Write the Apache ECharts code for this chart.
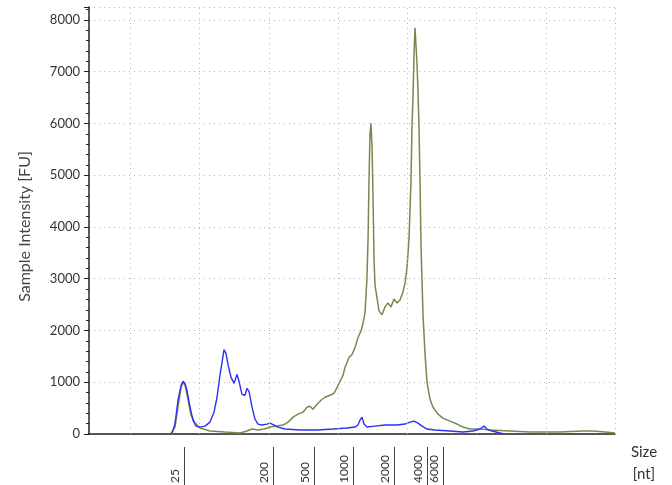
<!DOCTYPE html>
<html><head><meta charset="utf-8">
<script src="https://cdn.jsdelivr.net/npm/echarts@6/dist/echarts.min.js"></script>
<style>html,body{margin:0;padding:0;background:#fff}#c{width:672px;height:485px}</style>
</head><body><div id="c"></div>
<script>
// migration time axis (s) and fluorescence (FU)
const sampleGreen = [
[22.92,0],[23.21,134],[23.43,518],[23.65,902],[23.79,1000],[23.94,940],[24.15,671],[24.37,365],[24.66,211],[25.02,115],
[25.74,58],[26.83,38],[27.91,19],[28.41,58],[28.78,96],[29.21,77],[29.64,96],[30.08,134],[30.58,153],[31.02,173],
[31.38,230],[31.74,326],[32.10,384],[32.46,422],[32.75,518],[32.97,537],[33.18,480],[33.47,576],[33.76,652],[34.05,710],
[34.41,748],[34.70,787],[34.92,902],[35.13,1017],[35.35,1132],[35.49,1285],[35.64,1381],[35.78,1477],[36.00,1535],[36.22,1669],
[36.43,1861],[36.65,1995],[36.79,2130],[36.94,2341],[37.01,2667],[37.08,3012],[37.16,3779],[37.23,4931],[37.30,5794],[37.37,6005],
[37.45,5506],[37.52,4547],[37.59,3396],[37.66,2878],[37.81,2628],[37.95,2379],[38.17,2302],[38.38,2456],[38.60,2532],[38.82,2456],
[39.03,2609],[39.25,2532],[39.47,2590],[39.68,2743],[39.83,2916],[39.97,3204],[40.12,3779],[40.26,4873],[40.33,5890],[40.41,6561],
[40.48,7329],[40.55,7847],[40.62,7521],[40.70,7137],[40.77,6600],[40.84,5947],[40.91,4931],[40.99,3588],[41.13,2302],[41.27,1573],
[41.42,998],[41.64,671],[41.85,518],[42.21,384],[42.57,307],[43.08,249],[43.59,192],[44.02,134],[44.52,96],[45.25,96],
[45.97,77],[47.41,58],[48.86,38],[51.03,38],[52.69,58],[53.41,58],[54.28,38],[55.00,19]
];
const sampleBlue = [
[22.92,0],[23.07,77],[23.21,192],[23.43,652],[23.65,940],[23.79,1017],[23.94,978],[24.08,844],[24.30,518],[24.51,269],
[24.73,153],[25.02,134],[25.38,153],[25.74,230],[26.03,422],[26.25,710],[26.46,1132],[26.61,1381],[26.75,1631],[26.90,1554],
[27.04,1343],[27.26,1094],[27.48,978],[27.62,1094],[27.69,1151],[27.84,1017],[28.05,767],[28.27,748],[28.41,882],[28.56,825],
[28.78,518],[28.99,288],[29.21,192],[29.50,173],[29.86,192],[30.08,211],[30.37,173],[30.65,134],[31.16,96],[32.24,77],
[33.47,77],[34.63,96],[35.64,115],[36.22,134],[36.43,173],[36.58,269],[36.72,326],[36.87,192],[37.08,134],[37.66,153],
[38.38,173],[39.25,173],[39.83,192],[40.19,230],[40.48,249],[40.77,211],[41.06,153],[41.42,96],[42.00,77],[43.08,58],
[44.02,38],[44.74,58],[45.25,96],[45.54,153],[45.75,96],[46.11,58],[46.69,19],[46.98,0]
];
const ladderTimes = [23.86, 30.29, 33.25, 36.07, 39.03, 41.42, 42.57];
const ladderSizes = ['25', '200', '500', '1000', '2000', '4000', '6000'];
const timeGrid = [20, 25, 30, 35, 40, 45, 50, 55];
const yTicks = [0, 1000, 2000, 3000, 4000, 5000, 6000, 7000, 8000];

const FONT = 'Lato, "Noto Sans", sans-serif';
const chart = echarts.init(document.getElementById('c'), null, {renderer: 'canvas'});
chart.setOption({
  animation: false,
  backgroundColor: '#fff',
  textStyle: {fontFamily: FONT},
  grid: [
    {left: 89, right: 57, top: 7, bottom: 48, containLabel: false},
    {left: 89, right: 57, top: 447, bottom: 0, containLabel: false}
  ],
  xAxis: [
    {type: 'value', min: 17, max: 55, gridIndex: 0,
     axisLine: {show: true, onZero: false, lineStyle: {color: '#222', width: 1.5}},
     axisTick: {show: false}, axisLabel: {show: false}, splitLine: {show: false},
     name: 'Size\n[nt]', nameLocation: 'end', nameGap: 29,
     nameTextStyle: {fontFamily: FONT, fontSize: 15, color: '#333', align: 'center', verticalAlign: 'top', lineHeight: 22, padding: [7, 0, 0, 0]}
    },
    {type: 'value', min: 17, max: 55, gridIndex: 1, show: false}
  ],
  yAxis: [
    {type: 'value', min: 0, max: 8250, interval: 1000, gridIndex: 0,
     axisLine: {show: true, lineStyle: {color: '#222', width: 1.5}},
     axisTick: {show: true, length: 5, lineStyle: {color: '#222'}},
     minorTick: {show: true, splitNumber: 5, length: 3, lineStyle: {color: '#222'}},
     axisLabel: {fontFamily: FONT, fontSize: 13, color: '#333', margin: 9,
       formatter: function (v) { return yTicks.indexOf(v) >= 0 ? String(v) : ''; }},
     splitLine: {show: true, lineStyle: {color: '#b5b5b5', width: 1, type: [1, 4]}},
     name: 'Sample Intensity [FU]', nameLocation: 'middle', nameGap: 56,
     nameTextStyle: {fontFamily: FONT, fontSize: 16, color: '#444', padding: [0, 12, 0, 0]}
    },
    {type: 'value', min: 0, max: 1, gridIndex: 1, show: false}
  ],
  series: [
    {type: 'line', name: 'grid', data: [], silent: true, xAxisIndex: 0, yAxisIndex: 0,
     markLine: {silent: true, symbol: 'none', label: {show: false},
       lineStyle: {color: '#b5b5b5', width: 1, type: [1, 4]},
       data: timeGrid.map(t => ({xAxis: t}))}},
    {type: 'line', name: 'ladder', data: [], silent: true, xAxisIndex: 1, yAxisIndex: 1,
     markLine: {silent: true, symbol: 'none',
       lineStyle: {color: '#444', width: 1, type: 'solid'},
       label: {show: true, position: 'insideStartTop', distance: [2, 3], fontFamily: FONT, fontSize: 12, color: '#333',
         formatter: function (p) { const i = ladderTimes.indexOf(p.value); return i >= 0 ? ladderSizes[i] : ''; }},
       data: ladderTimes.map(t => ({xAxis: t}))}},
    {type: 'line', name: 'B', data: sampleBlue, showSymbol: false, symbol: 'none',
     lineStyle: {color: '#2f2ff5', width: 1.4}, z: 3},
    {type: 'line', name: 'A', data: sampleGreen, showSymbol: false, symbol: 'none',
     lineStyle: {color: '#768a4e', width: 1.5}, z: 2}
  ]
});
</script></body></html>
